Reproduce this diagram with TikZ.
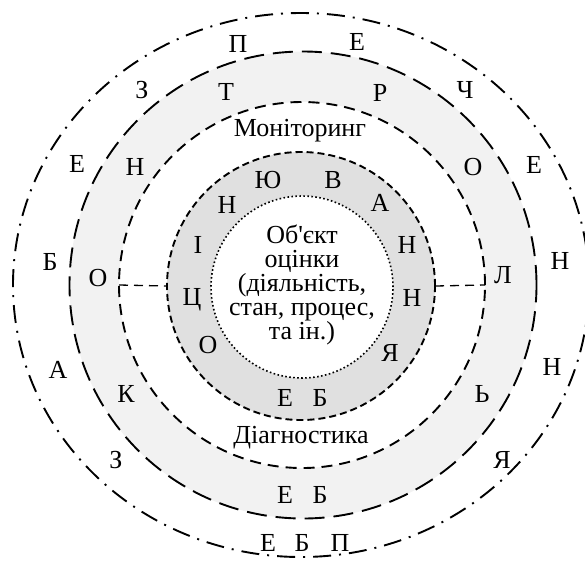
\documentclass[tikz,border=0pt]{standalone}
\usepackage{fontspec}
\setmainfont{Liberation Serif}[Ligatures=TeXOff]
\usetikzlibrary{shapes.geometric}
\definecolor{bandgray}{gray}{0.95}
\definecolor{ringgray}{gray}{0.88}
\tikzset{
  lt/.style={font=\fontsize{26}{24}\selectfont, inner sep=0pt, anchor=center},
  ring/.style={circle, inner sep=0pt, outer sep=0pt, line width=1.9pt},
  conn/.style={line width=1.3pt, dash pattern=on 9pt off 6pt},
}
\begin{document}
\begin{tikzpicture}[x=1pt,y=-1pt]
\useasboundingbox (0,0) rectangle (585,563);
% rings
\node[ellipse, inner sep=0pt, outer sep=0pt, line width=1.9pt, draw,
      minimum width=576pt, minimum height=544pt,
      dash pattern=on 18pt off 8pt on 2pt off 8pt] (c1) at (301,285) {};
\node[ring, draw, fill=bandgray, minimum size=467pt,
      dash pattern=on 20pt off 9pt] (c2) at (303,285) {};
\node[ring, draw, fill=white, minimum size=366pt,
      dash pattern=on 11pt off 7pt] (c3) at (302,285) {};
\node[ring, draw, fill=ringgray, minimum size=268pt,
      dash pattern=on 7pt off 4pt] (c4) at (301,286) {};
\node[ring, draw, fill=white, minimum size=182pt, line width=1.6pt,
      dash pattern=on 1.6pt off 2.4pt] (c5) at (302,287) {};
% connectors
\draw[conn] (c3.west) -- (c4.west);
\draw[conn] (c4.east) -- (c3.east);
% outer ring letters
\node[lt] (o1) at (238,44) {П};
\node[lt] (o2) at (357,42) {Е};
\node[lt] (o3) at (465,90) {Ч};
\node[lt] (o4) at (534,165) {Е};
\node[lt] (o5) at (560,261) {Н};
\node[lt] (o6) at (552,367) {Н};
\node[lt] (o7) at (502,460) {Я};
\node[lt] (o8) at (340,543) {П};
\node[lt] (o9) at (302,543) {Б};
\node[lt] (o10) at (268,543) {Е};
\node[lt] (o11) at (116,460) {З};
\node[lt] (o12) at (58,370) {А};
\node[lt] (o13) at (50,262) {Б};
\node[lt] (o14) at (77,164) {Е};
\node[lt] (o15) at (142,90) {З};
% second ring letters
\node[lt] (s1) at (226,92) {Т};
\node[lt] (s2) at (380,93) {Р};
\node[lt] (s3) at (473,167) {О};
\node[lt] (s4) at (503,275) {Л};
\node[lt] (s5) at (482,394) {Ь};
\node[lt] (s6) at (320,495) {Б};
\node[lt] (s7) at (285,495) {Е};
\node[lt] (s8) at (126,394) {К};
\node[lt] (s9) at (98,278) {О};
\node[lt] (s10) at (135,167) {Н};
% third ring labels
\node[lt] (mon) at (300,131) {Моніторинг};
\node[lt] (diag) at (301,438) {Діагностика};
% inner ring letters
\node[lt] (i1) at (268,180) {Ю};
\node[lt] (i2) at (333,180) {В};
\node[lt] (i3) at (380,203) {А};
\node[lt] (i4) at (407,245) {Н};
\node[lt] (i5) at (412,298) {Н};
\node[lt] (i6) at (390,353) {Я};
\node[lt] (i7) at (320,398) {Б};
\node[lt] (i8) at (285,398) {Е};
\node[lt] (i9) at (208,345) {О};
\node[lt] (i10) at (192,300) {Ц};
\node[lt] (i11) at (198,245) {І};
\node[lt] (i12) at (227,205) {Н};
% centre
\node[lt, align=center] (obj) at (302,285)
  {Об'єкт\\оцінки\\(діяльність,\\стан, процес,\\та ін.)};
\end{tikzpicture}
\end{document}
